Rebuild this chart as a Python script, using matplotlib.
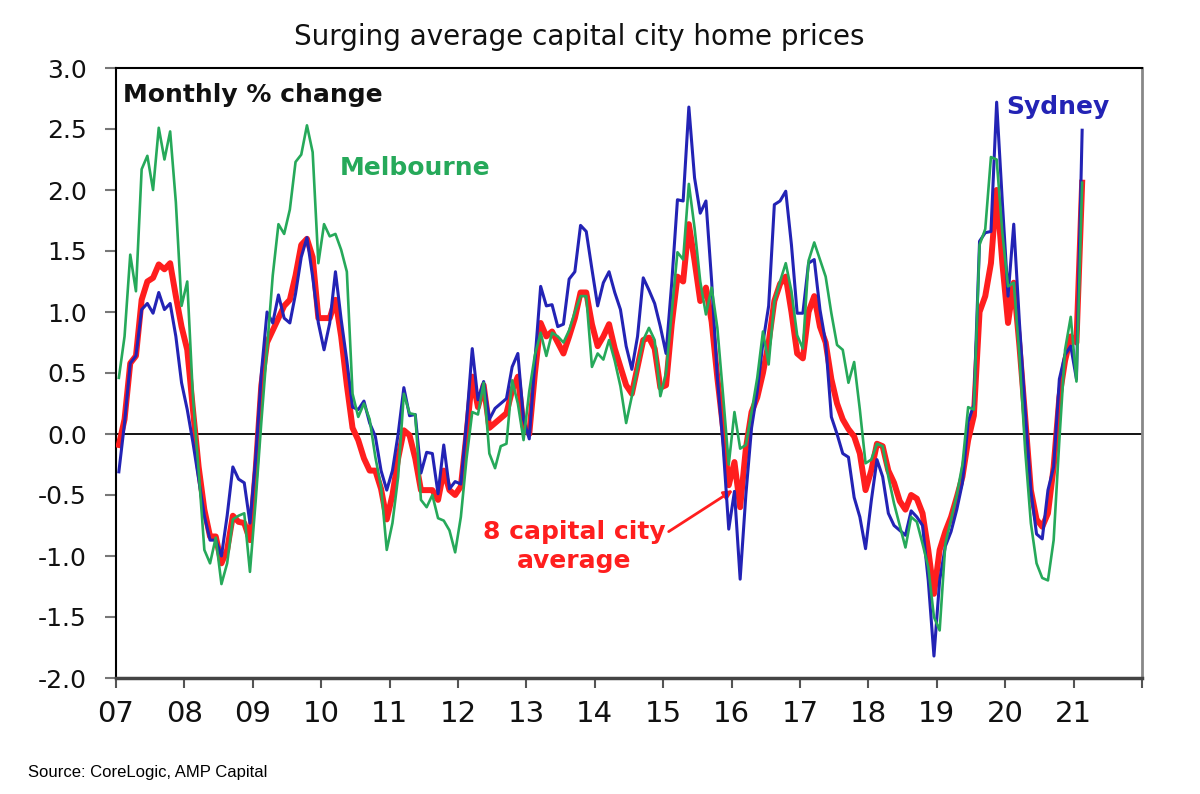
import matplotlib
matplotlib.use("Agg")
import matplotlib.pyplot as plt
import numpy as np

# monthly % change, Jan 2007 .. Feb 2021 (170 months)
sydney = [
    -0.31, 0.09, 0.58, 0.64, 1.02, 1.07, 0.99, 1.16, 1.02, 1.07, 0.80, 0.42,
    0.20, -0.07, -0.37, -0.67, -0.87, -0.87, -1.00, -0.67, -0.27, -0.37, -0.40, -0.73,
    -0.20, 0.50, 1.00, 0.91, 1.14, 0.95, 0.91, 1.15, 1.45, 1.61, 1.29, 0.91,
    0.69, 0.91, 1.33, 0.94, 0.60, 0.22, 0.20, 0.27, 0.09, -0.02, -0.30, -0.46,
    -0.30, 0.00, 0.38, 0.15, 0.16, -0.32, -0.15, -0.16, -0.49, -0.09, -0.45, -0.39,
    -0.41, 0.10, 0.70, 0.28, 0.43, 0.12, 0.21, 0.25, 0.29, 0.55, 0.66, 0.12,
    -0.04, 0.60, 1.21, 1.05, 1.06, 0.88, 0.90, 1.27, 1.33, 1.71, 1.66, 1.35,
    1.05, 1.24, 1.33, 1.16, 1.02, 0.72, 0.53, 0.80, 1.28, 1.18, 1.07, 0.88,
    0.66, 1.24, 1.92, 1.91, 2.68, 2.10, 1.81, 1.91, 1.25, 0.46, -0.09, -0.78,
    -0.47, -1.19, -0.50, 0.05, 0.35, 0.75, 1.05, 1.88, 1.91, 1.99, 1.55, 0.99,
    0.99, 1.40, 1.43, 1.02, 0.75, 0.14, 0.00, -0.16, -0.19, -0.52, -0.68, -0.94,
    -0.55, -0.21, -0.35, -0.65, -0.75, -0.79, -0.83, -0.63, -0.68, -0.75, -1.20, -1.82,
    -1.20, -0.92, -0.80, -0.62, -0.40, 0.10, 0.24, 1.58, 1.65, 1.66, 2.72, 1.90,
    1.13, 1.72, 0.91, 0.20, -0.46, -0.82, -0.86, -0.46, -0.27, 0.45, 0.65, 0.72,
    0.45, 2.49,
]

melbourne = [
    0.46, 0.80, 1.47, 1.17, 2.17, 2.28, 2.00, 2.51, 2.25, 2.48, 1.90, 1.05,
    1.25, 0.30, -0.30, -0.95, -1.06, -0.85, -1.23, -1.06, -0.70, -0.67, -0.65, -1.13,
    -0.55, 0.10, 0.70, 1.30, 1.72, 1.64, 1.84, 2.23, 2.29, 2.53, 2.31, 1.40,
    1.72, 1.62, 1.64, 1.51, 1.33, 0.33, 0.14, 0.25, 0.12, -0.19, -0.43, -0.95,
    -0.73, -0.35, 0.33, 0.17, 0.16, -0.54, -0.60, -0.50, -0.69, -0.71, -0.79, -0.97,
    -0.68, -0.20, 0.18, 0.16, 0.42, -0.16, -0.28, -0.10, -0.08, 0.44, 0.25, -0.05,
    0.35, 0.65, 0.83, 0.64, 0.83, 0.80, 0.75, 0.85, 1.00, 1.13, 1.13, 0.55,
    0.66, 0.61, 0.77, 0.60, 0.39, 0.09, 0.31, 0.55, 0.77, 0.87, 0.77, 0.31,
    0.50, 1.00, 1.49, 1.43, 2.05, 1.69, 1.25, 0.98, 1.20, 0.87, 0.32, -0.25,
    0.18, -0.12, -0.09, 0.18, 0.46, 0.84, 0.57, 1.09, 1.25, 1.40, 1.17, 0.81,
    0.70, 1.42, 1.57, 1.43, 1.29, 0.99, 0.73, 0.69, 0.42, 0.59, 0.20, -0.24,
    -0.21, -0.08, -0.10, -0.35, -0.57, -0.75, -0.93, -0.68, -0.72, -0.90, -1.09, -1.50,
    -1.61, -0.90, -0.70, -0.50, -0.25, 0.22, 0.20, 1.55, 1.68, 2.27, 2.25, 1.65,
    1.21, 1.24, 0.64, -0.13, -0.73, -1.06, -1.18, -1.20, -0.87, -0.05, 0.69, 0.96,
    0.43, 2.06,
]

capitals = [
    -0.09, 0.12, 0.58, 0.64, 1.10, 1.25, 1.28, 1.39, 1.35, 1.40, 1.13, 0.88,
    0.69, 0.20, -0.27, -0.62, -0.84, -0.84, -1.06, -0.95, -0.67, -0.72, -0.73, -0.87,
    -0.30, 0.40, 0.75, 0.85, 0.95, 1.05, 1.10, 1.30, 1.55, 1.60, 1.45, 0.95,
    0.95, 0.95, 1.10, 0.80, 0.40, 0.05, -0.05, -0.20, -0.30, -0.30, -0.45, -0.70,
    -0.50, -0.20, 0.03, -0.01, -0.20, -0.46, -0.46, -0.46, -0.54, -0.30, -0.46, -0.50,
    -0.43, 0.00, 0.47, 0.22, 0.40, 0.05, 0.09, 0.13, 0.17, 0.36, 0.47, 0.06,
    0.00, 0.50, 0.91, 0.80, 0.84, 0.75, 0.66, 0.80, 0.95, 1.16, 1.16, 0.90,
    0.72, 0.80, 0.90, 0.70, 0.55, 0.40, 0.33, 0.55, 0.77, 0.79, 0.70, 0.38,
    0.40, 0.90, 1.29, 1.25, 1.72, 1.42, 1.09, 1.20, 0.92, 0.46, 0.05, -0.42,
    -0.23, -0.60, -0.12, 0.18, 0.30, 0.50, 0.75, 1.09, 1.23, 1.29, 1.00, 0.66,
    0.62, 1.00, 1.13, 0.88, 0.75, 0.45, 0.25, 0.12, 0.04, -0.02, -0.16, -0.46,
    -0.30, -0.08, -0.10, -0.30, -0.40, -0.55, -0.62, -0.50, -0.53, -0.65, -0.95, -1.31,
    -0.95, -0.80, -0.68, -0.52, -0.35, -0.05, 0.15, 1.00, 1.13, 1.40, 2.00, 1.40,
    0.91, 1.24, 0.72, 0.14, -0.46, -0.70, -0.76, -0.65, -0.27, 0.30, 0.60, 0.80,
    0.75, 2.06,
]

start_year = 2007
years = np.arange(2007, 2023)
year_labels = [f"{y % 100:02d}" for y in years[:-1]] + [""]
yticks = np.arange(-2.0, 3.01, 0.5)

RED = "#ff1e1e"
BLUE = "#2323b5"
GREEN = "#26a95a"

# plot each month at its mid-point
x = start_year + (np.arange(len(sydney)) + 0.5) / 12

fig = plt.figure(figsize=(12, 7.94), dpi=100)
ax = fig.add_axes([116 / 1200, 1 - 678 / 794, 1026 / 1200, 610 / 794])

ax.axhline(0, color="black", lw=1.3, zorder=2)
ax.plot(x, capitals, color=RED, lw=4.3, zorder=3, solid_joinstyle="round")
ax.plot(x, sydney, color=BLUE, lw=2.2, zorder=4)
ax.plot(x, melbourne, color=GREEN, lw=1.9, zorder=5)

ax.set_xlim(2007, 2022)
ax.set_ylim(-2.0, 3.0)
ax.set_xticks(years)
ax.set_xticklabels(year_labels)
ax.set_yticks(yticks)
ax.set_yticklabels([f"{v:.1f}" for v in yticks])

ax.tick_params(axis="x", direction="out", length=7, width=1.5, color="#555555",
               pad=9, labelsize=21, labelcolor="#111111")
ax.tick_params(axis="y", direction="out", length=8, width=1.5, color="#777777",
               pad=13, labelsize=18, labelcolor="#111111")

ax.spines["left"].set_color("black")
ax.spines["left"].set_linewidth(1.5)
ax.spines["top"].set_color("black")
ax.spines["top"].set_linewidth(1.5)
ax.spines["right"].set_color("#888888")
ax.spines["right"].set_linewidth(2)
ax.spines["bottom"].set_color("#444444")
ax.spines["bottom"].set_linewidth(2.5)

ax.text(0.007, 0.956, "Monthly % change", transform=ax.transAxes,
        fontsize=18, fontweight="bold", color="#111111", va="center", ha="left")
ax.text(0.218, 0.836, "Melbourne", transform=ax.transAxes,
        fontsize=18, fontweight="bold", color=GREEN, va="center", ha="left")
ax.text(0.868, 0.936, "Sydney", transform=ax.transAxes,
        fontsize=18, fontweight="bold", color=BLUE, va="center", ha="left")
ax.text(0.447, 0.216, "8 capital city\naverage", transform=ax.transAxes,
        fontsize=18, fontweight="bold", color=RED, va="center", ha="center",
        linespacing=1.25)
ax.annotate("", xy=(2016.02, -0.46), xytext=(2015.08, -0.80),
            arrowprops=dict(arrowstyle="-|>", color=RED, lw=2, mutation_scale=13,
                            shrinkA=0, shrinkB=0))

fig.text(0.483, 1 - 37 / 794, "Surging average capital city home prices",
         ha="center", va="center", fontsize=20, color="#111111")
fig.text(28 / 1200, 1 - 772 / 794, "Source: CoreLogic, AMP Capital",
         ha="left", va="center", fontsize=12, family="Liberation Sans", color="black")

fig.savefig("out.png", dpi=100)
